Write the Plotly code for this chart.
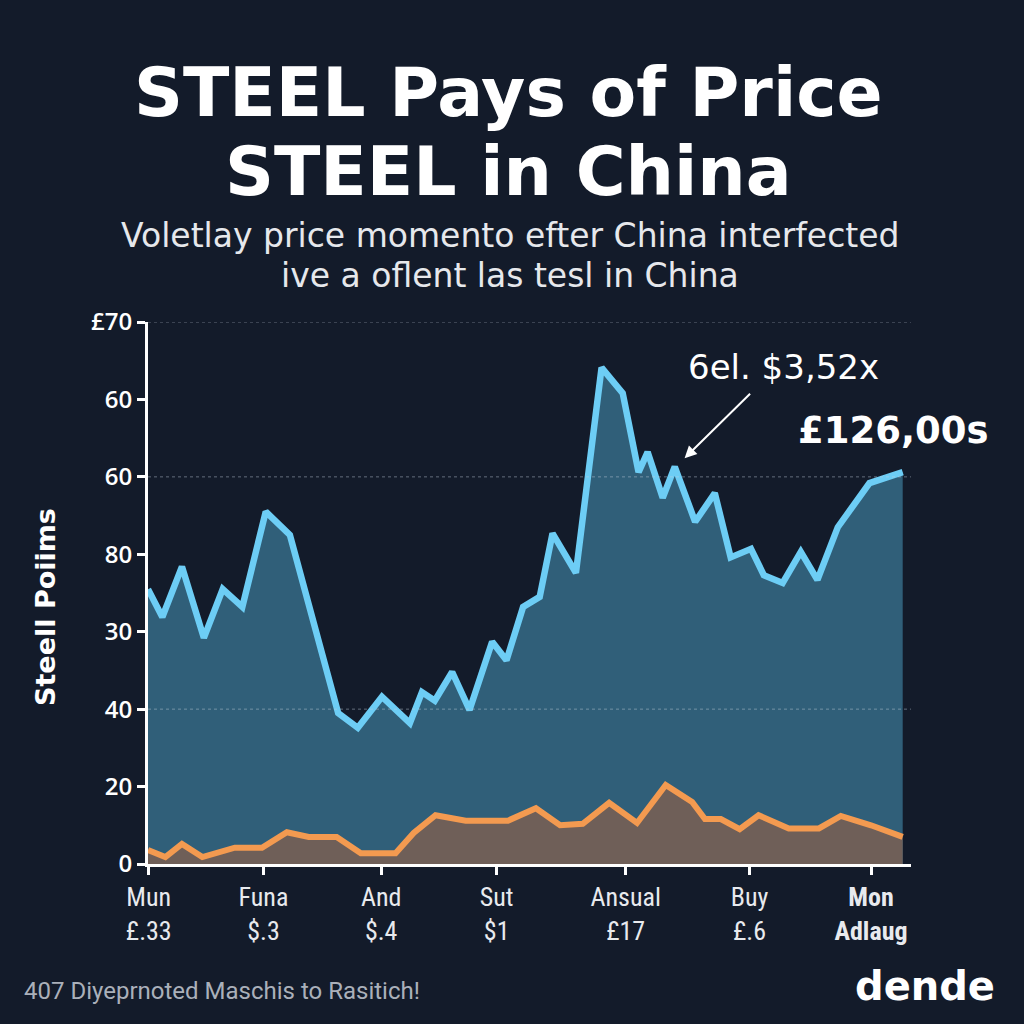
import plotly.graph_objects as go

# ---- data ----
blue_x = [0, 1.9, 4.5, 7.4, 9.9, 12.5, 15.6, 18.8, 25.2, 27.8, 31.0, 34.7, 36.3, 38.0, 40.3, 42.6,
          45.6, 47.5, 49.7, 51.9, 53.6, 56.7, 60.1, 62.9, 65.0, 66.2, 68.2, 69.8, 72.5, 75.1,
          77.2, 79.9, 81.6, 84.1, 86.5, 88.7, 91.4, 95.6, 100]
blue_y = [35.5, 31.9, 38.4, 29.2, 35.5, 33.2, 45.5, 42.5, 19.5, 17.6, 21.6, 18.2, 22.2, 21.1, 24.8, 19.9,
          28.7, 26.3, 33.2, 34.5, 42.7, 37.6, 64.1, 60.8, 50.6, 53.2, 47.3, 51.3, 44.2, 47.9,
          39.6, 40.7, 37.3, 36.3, 40.3, 36.7, 43.5, 49.2, 50.6]

orange_x = [0, 2.3, 4.5, 7.2, 11.5, 15.1, 18.4, 21.3, 25.0, 28.2, 32.8, 35.2, 38.1, 42.1, 47.7,
            51.4, 54.6, 57.6, 61.1, 64.8, 68.6, 72.1, 73.8, 75.9, 78.4, 80.9, 84.9, 88.9, 91.8, 95.8, 100]
orange_y = [1.8, 0.9, 2.6, 0.9, 2.1, 2.1, 4.1, 3.5, 3.5, 1.4, 1.4, 4.0, 6.3, 5.6, 5.6,
            7.2, 5.0, 5.2, 7.9, 5.3, 10.2, 8.0, 5.8, 5.8, 4.5, 6.3, 4.6, 4.6, 6.2, 5.0, 3.5]

x_tick_vals = [0.1, 15.3, 30.9, 46.2, 63.3, 79.7, 95.8]
x_tick_text = ["Mun<br>£.33", "Funa<br>$.3", "And<br>$.4", "Sut<br>$1", "Ansual<br>£17", "Buy<br>£.6",
               "<b>Mon<br>Adlaug</b>"]
y_tick_vals = [0, 10, 20, 30, 40, 50, 60, 70]
y_tick_text = ["0", "20", "40", "30", "80", "60", "60", "£70"]
grid_vals = [20, 50, 70]

title_lines = ["STEEL Pays of Price", "STEEL in China"]
subtitle_lines = ["Voletlay price momento efter China interfected", "ive a oflent las tesl in China"]
annot_point = (71.1, 52.4)
annot_text = "6el. $3,52x"
value_text = "£126,00s"
y_title = "Steell Poiims"
footer_text = "407 Diyeprnoted Maschis to Rasitich!"
logo_text = "dende"

BG = "#131b2a"
W, H = 1024, 1024
L, R, T, B = 148, 113, 322, 160
PW, PH = W - L - R, H - T - B


def px(xp):
    return (xp - L) / PW


def py(yp):
    return (H - B - yp) / PH


fig = go.Figure()
fig.add_trace(go.Scatter(x=blue_x, y=blue_y, mode="lines", fill="tozeroy",
                         fillcolor="#305f79", line=dict(color="#6dcdf5", width=6.5),
                         hoverinfo="skip", showlegend=False))
fig.add_trace(go.Scatter(x=orange_x, y=orange_y, mode="lines", fill="tozeroy",
                         fillcolor="#6f5f58", line=dict(color="#f39a50", width=6),
                         hoverinfo="skip", showlegend=False))

for g in grid_vals:
    fig.add_shape(type="line", xref="paper", yref="y", x0=0, x1=1, y0=g, y1=g,
                  line=dict(color="rgba(200,210,225,0.45)", width=1, dash="dot"), layer="above")

TITLE_FONT = dict(family="DejaVu Sans", size=68, color="white", weight="bold")
SUB_FONT = dict(family="DejaVu Sans", size=33, color="#e6e8ec")

ann = []
ann.append(dict(text=title_lines[0], x=px(508), xref="paper", y=py(92), yref="paper",
                xanchor="center", yanchor="middle", showarrow=False, font=TITLE_FONT))
ann.append(dict(text=title_lines[1], x=px(508), xref="paper", y=py(171), yref="paper",
                xanchor="center", yanchor="middle", showarrow=False, font=TITLE_FONT))
ann.append(dict(text=subtitle_lines[0], x=px(510), xref="paper", y=py(236), yref="paper",
                xanchor="center", yanchor="middle", showarrow=False, font=SUB_FONT))
ann.append(dict(text=subtitle_lines[1], x=px(510), xref="paper", y=py(275), yref="paper",
                xanchor="center", yanchor="middle", showarrow=False, font=SUB_FONT))
ann.append(dict(text="", x=annot_point[0], y=annot_point[1], xref="x", yref="y",
                showarrow=True, ax=67, ay=-66, arrowhead=2, arrowsize=1.2, arrowwidth=2,
                arrowcolor="white"))
ann.append(dict(text=annot_text, x=px(783), xref="paper", y=py(367), yref="paper",
                xanchor="center", yanchor="middle", showarrow=False,
                font=dict(family="DejaVu Sans", size=34, color="white")))
ann.append(dict(text=value_text, x=px(893), xref="paper", y=py(430), yref="paper",
                xanchor="center", yanchor="middle", showarrow=False,
                font=dict(family="DejaVu Sans", size=37, color="white", weight="bold")))
ann.append(dict(text=y_title, x=px(45), xref="paper", y=py(607), yref="paper",
                xanchor="center", yanchor="middle", showarrow=False, textangle=-90,
                font=dict(family="DejaVu Sans", size=27, color="white", weight="bold")))
ann.append(dict(text=footer_text, x=px(22), xref="paper", y=py(991), yref="paper",
                xanchor="left", yanchor="middle", showarrow=False,
                font=dict(family="Roboto", size=24, color="#aab0ba")))
ann.append(dict(text=logo_text, x=px(925), xref="paper", y=py(986), yref="paper",
                xanchor="center", yanchor="middle", showarrow=False,
                font=dict(family="DejaVu Sans", size=40, color="white", weight="bold")))

fig.update_layout(
    width=W, height=H, paper_bgcolor=BG, plot_bgcolor=BG,
    margin=dict(l=L, r=R, t=T, b=B, autoexpand=False),
    annotations=ann,
    xaxis=dict(range=[0, 101.1], tickvals=x_tick_vals, ticktext=x_tick_text,
               showgrid=False, zeroline=False, showline=True, linecolor="white", linewidth=3,
               ticks="outside", ticklen=8, tickwidth=3, tickcolor="white",
               tickfont=dict(family="Liberation Sans Narrow, Roboto Condensed, Roboto", size=26,
                             color="#e8eaee")),
    yaxis=dict(range=[0, 70], tickvals=y_tick_vals, ticktext=y_tick_text,
               showgrid=False, zeroline=False, showline=True, linecolor="white", linewidth=3,
               ticks="outside", ticklen=8, tickwidth=3, tickcolor="white",
               tickfont=dict(family="Open Sans", size=24, color="white", weight=600)),
)

fig.write_html("out.html", config={"displayModeBar": False},
               post_script="document.body.style.margin='0';document.body.style.background='%s';" % BG)
